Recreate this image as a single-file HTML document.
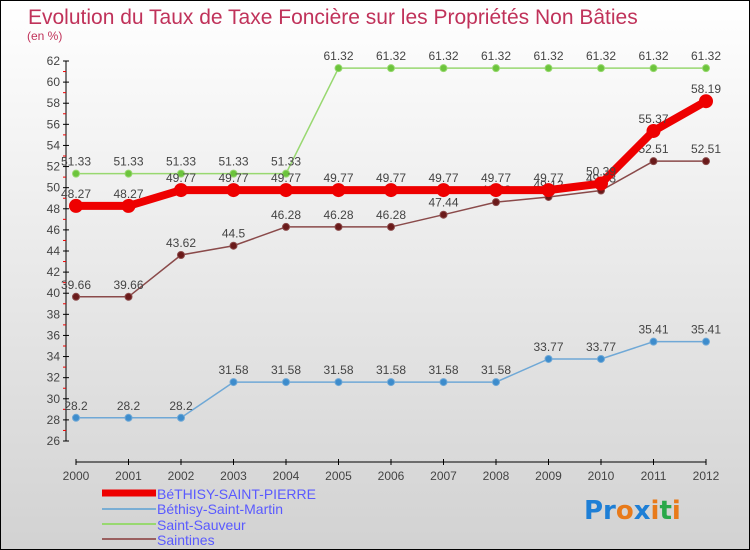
<!DOCTYPE html>
<html><head><meta charset="utf-8"><style>
body{margin:0}
#c{position:relative;width:750px;height:550px;box-sizing:border-box;border:1px solid #000;background:linear-gradient(#ffffff,#d2d2d2);overflow:hidden;font-family:"Liberation Sans",sans-serif}
</style></head><body>
<div id="c">
<svg id="s" width="750" height="550" style="position:absolute;left:0;top:0">
<text x="27" y="23" font-size="21" fill="#c0325a">Evolution du Taux de Taxe Foncière sur les Propriétés Non Bâties</text>
<text x="26" y="39" font-size="12" fill="#c0325a">(en %)</text>
<g id="ax"></g><g id="series"></g>
<g>
<line x1="101" y1="492" x2="155" y2="492" stroke="#e00" stroke-width="7"/>
<text x="156" y="498" font-size="14" fill="#5a5aff">BéTHISY-SAINT-PIERRE</text>
<line x1="101" y1="508" x2="155" y2="508" stroke="#7aaed4" stroke-width="2"/>
<text x="156" y="513" font-size="14" fill="#5a5aff">Béthisy-Saint-Martin</text>
<line x1="101" y1="523" x2="155" y2="523" stroke="#98d870" stroke-width="2"/>
<text x="156" y="529" font-size="14" fill="#5a5aff">Saint-Sauveur</text>
<line x1="101" y1="538" x2="155" y2="538" stroke="#9a6060" stroke-width="2"/>
<text x="156" y="544" font-size="14" fill="#5a5aff">Saintines</text>
</g>
<text x="583" y="518" font-size="26" font-family="'DejaVu Sans',sans-serif" font-weight="bold"><tspan fill="#1e7fd6">Pr</tspan><tspan fill="#e87a1a">o</tspan><tspan fill="#1e7fd6">x</tspan><tspan fill="#e87a1a">i</tspan><tspan fill="#2aa84a">t</tspan><tspan fill="#e87a1a">i</tspan></text>
</svg>
</div>
<script>
const years=[2000,2001,2002,2003,2004,2005,2006,2007,2008,2009,2010,2011,2012];
const yTicks=[26,28,30,32,34,36,38,40,42,44,46,48,50,52,54,56,58,60,62];
const bsp=[48.27,48.27,49.77,49.77,49.77,49.77,49.77,49.77,49.77,49.77,50.39,55.37,58.19];
const bsm=[28.2,28.2,28.2,31.58,31.58,31.58,31.58,31.58,31.58,33.77,33.77,35.41,35.41];
const ss=[51.33,51.33,51.33,51.33,51.33,61.32,61.32,61.32,61.32,61.32,61.32,61.32,61.32];
const sai=[39.66,39.66,43.62,44.5,46.28,46.28,46.28,47.44,48.63,49.12,49.73,52.51,52.51];
const NS="http://www.w3.org/2000/svg";
const X=i=>75+i*52.5, Y=v=>440-(v-26)*(380/36);
function mk(t,a,p){const e=document.createElementNS(NS,t);for(const k in a)e.setAttribute(k,a[k]);p.appendChild(e);return e;}
const ax=document.getElementById('ax');
const yl=mk('line',{x1:65,y1:Y(62),x2:65,y2:Y(26),stroke:'#000'},ax);


const xl=mk('line',{x1:75,y1:461,x2:705,y2:461,stroke:'#000'},ax);


yTicks.forEach(v=>{
 mk('line',{x1:62,x2:68,y1:Y(v),y2:Y(v),stroke:'#000'},ax);
 if(v<62) mk('line',{x1:62,x2:65,y1:Y(v+1),y2:Y(v+1),stroke:'#e00'},ax);
 const t=mk('text',{x:59,y:Y(v)+4,'font-size':12,'text-anchor':'end',fill:'#444'},ax);t.textContent=v;
 
 
});
years.forEach((y,i)=>{
 mk('line',{x1:X(i),x2:X(i),y1:458,y2:464,stroke:'#000'},ax);
 const t=mk('text',{x:X(i),y:479,'font-size':12,'text-anchor':'middle',fill:'#444'},ax);t.textContent=y;
 
 
});
const sg=document.getElementById('series');
function series(d,name,col,dot,w,r,lblCol){
 const g=mk('g',{},sg);
 
 
 mk('polyline',{points:d.map((v,i)=>X(i)+','+Y(v)).join(' '),fill:'none',stroke:col,'stroke-width':w},g);
 d.forEach((v,i)=>{
  const c=mk('circle',{cx:X(i),cy:Y(v),r:r,fill:dot,stroke:col,'stroke-width':1},g);
  
  
  const t=mk('text',{x:X(i),y:Y(v)-8,'font-size':12,'text-anchor':'middle',fill:'#444'},g);t.textContent=v;
  
  
 });
}
series(bsm,'bethisy-saint-martin','#6fa8d6','#3d8ccc',1.5,3.5);
series(ss,'saint-sauveur','#98d870','#6cc43c',1.5,3.5);
series(sai,'saintines','#8a4a4a','#6a1a1a',1.5,3.5);
series(bsp,'bethisy-saint-pierre','#ee0000','#ee0000',8,6.5);
</script>
</body></html>
